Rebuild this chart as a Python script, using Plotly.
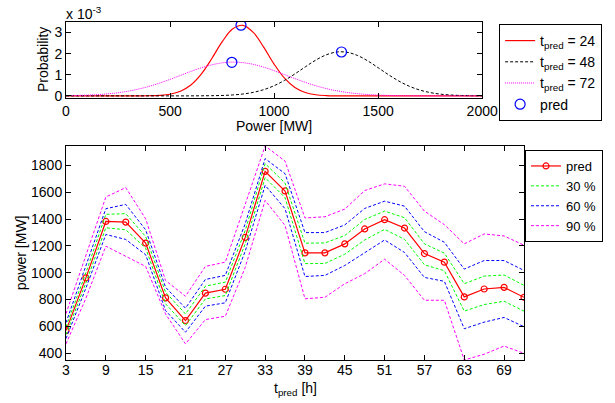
import plotly.graph_objects as go

# ---------------- data: top panel (probability, units of 1e-3) ----------------
power_grid = [0, 50, 100, 150, 200, 250, 300, 350, 400, 450, 500, 550, 600, 650, 700,
              750, 800, 850, 900, 950, 1000, 1050, 1100, 1150, 1200, 1250, 1300, 1350,
              1400, 1450, 1500, 1550, 1600, 1650, 1700, 1750, 1800, 1850, 1900, 1950, 2000]
prob_t24 = [0, 0, 0, 0, 0, 0, 0, 0.001, 0.006, 0.025, 0.079, 0.219, 0.514, 1.030, 1.758,
            2.555, 3.166, 3.343, 3.008, 2.307, 1.507, 0.839, 0.398, 0.161, 0.055, 0.016,
            0.004, 0.001, 0, 0, 0, 0, 0, 0, 0, 0, 0, 0, 0, 0, 0]
prob_t48 = [0, 0, 0, 0, 0, 0, 0, 0, 0, 0, 0, 0, 0.001, 0.004, 0.009, 0.020, 0.044, 0.089,
            0.168, 0.295, 0.482, 0.734, 1.041, 1.375, 1.693, 1.942, 2.076, 2.067, 1.918,
            1.658, 1.335, 1.002, 0.700, 0.456, 0.277, 0.157, 0.082, 0.041, 0.019, 0.008, 0.003]
prob_t72 = [0.011, 0.020, 0.035, 0.059, 0.096, 0.150, 0.225, 0.326, 0.453, 0.607, 0.783,
            0.970, 1.158, 1.330, 1.470, 1.563, 1.600, 1.575, 1.493, 1.361, 1.194, 1.008,
            0.820, 0.641, 0.482, 0.349, 0.243, 0.163, 0.105, 0.065, 0.039, 0.022, 0.012,
            0.007, 0.003, 0.002, 0.001, 0, 0, 0, 0]
pred_power = [841, 1324, 797]
pred_prob = [3.35, 2.08, 1.59]
top_labels = ["t<sub>pred</sub> = 24", "t<sub>pred</sub> = 48", "t<sub>pred</sub> = 72", "pred"]

# ---------------- data: bottom panel (power forecast with bands) ----------------
t_pred = [3, 6, 9, 12, 15, 18, 21, 24, 27, 30, 33, 36, 39, 42, 45, 48, 51, 54, 57, 60,
          63, 66, 69, 72]
pred = [569, 962, 1382, 1377, 1221, 813, 644, 848, 877, 1263, 1755, 1609, 1148, 1148,
        1215, 1326, 1395, 1333, 1143, 1079, 820, 879, 891, 817]
q30_hi = [598, 1000, 1435, 1440, 1270, 855, 693, 900, 930, 1315, 1813, 1668, 1220, 1222,
          1277, 1397, 1459, 1410, 1215, 1146, 918, 975, 983, 906]
q30_lo = [540, 925, 1335, 1320, 1183, 768, 606, 805, 830, 1216, 1708, 1559, 1068, 1069,
          1138, 1244, 1323, 1249, 1059, 1015, 714, 763, 788, 714]
q60_hi = [628, 1045, 1477, 1509, 1320, 892, 736, 950, 980, 1365, 1850, 1738, 1299, 1299,
          1356, 1479, 1533, 1496, 1306, 1227, 1027, 1091, 1091, 1017]
q60_lo = [510, 885, 1285, 1248, 1134, 718, 557, 751, 776, 1160, 1651, 1477, 972, 980,
          1054, 1151, 1244, 1151, 965, 936, 583, 632, 667, 598]
q90_hi = [695, 1130, 1564, 1634, 1402, 942, 825, 1047, 1079, 1510, 1944, 1832, 1408, 1417,
          1474, 1612, 1662, 1644, 1459, 1358, 1215, 1289, 1274, 1205]
q90_lo = [470, 810, 1198, 1124, 1047, 693, 470, 651, 676, 1040, 1539, 1352, 806, 817,
          918, 993, 1101, 980, 795, 795, 350, 393, 454, 400]
bottom_labels = ["pred", "30 %", "60 %", "90 %"]
x_ticks_bottom = [3, 9, 15, 21, 27, 33, 39, 45, 51, 57, 63, 69]
y_ticks_bottom = [400, 600, 800, 1000, 1200, 1400, 1600, 1800]
x_ticks_top = [0, 500, 1000, 1500, 2000]
y_ticks_top = [0, 1, 2, 3]

FONT = "Liberation Sans, Arial, sans-serif"
DASH = "3px,2px"

fig = go.Figure()

# top panel
fig.add_trace(go.Scatter(x=power_grid, y=prob_t24, mode="lines", name=top_labels[0],
                         line=dict(color="#ff0000", width=1.2, shape="spline"),
                         xaxis="x", yaxis="y", legend="legend"))
fig.add_trace(go.Scatter(x=power_grid, y=prob_t48, mode="lines", name=top_labels[1],
                         line=dict(color="#000000", width=1, dash=DASH, shape="spline"),
                         xaxis="x", yaxis="y", legend="legend"))
fig.add_trace(go.Scatter(x=power_grid, y=prob_t72, mode="lines", name=top_labels[2],
                         line=dict(color="#ff00ff", width=1, dash="1px,1px", shape="spline"),
                         xaxis="x", yaxis="y", legend="legend"))
fig.add_trace(go.Scatter(x=pred_power, y=pred_prob, mode="markers", name=top_labels[3],
                         marker=dict(symbol="circle-open", size=10, color="#0000ff",
                                     line=dict(width=1.2, color="#0000ff")),
                         xaxis="x", yaxis="y", legend="legend"))

# bottom panel
band_specs = [(q30_hi, q30_lo, "#00ff00", bottom_labels[1]),
              (q60_hi, q60_lo, "#0000ff", bottom_labels[2]),
              (q90_hi, q90_lo, "#ff00ff", bottom_labels[3])]
fig.add_trace(go.Scatter(x=t_pred, y=pred, mode="lines+markers", name=bottom_labels[0],
                         line=dict(color="#ff0000", width=1.2),
                         marker=dict(symbol="circle-open", size=6, color="#ff0000",
                                     line=dict(width=1.2, color="#ff0000")),
                         xaxis="x2", yaxis="y2", legend="legend2"))
for hi, lo, col, lab in band_specs:
    fig.add_trace(go.Scatter(x=t_pred, y=hi, mode="lines", name=lab,
                             line=dict(color=col, width=1, dash=DASH),
                             xaxis="x2", yaxis="y2", legend="legend2", legendgroup=lab))
    fig.add_trace(go.Scatter(x=t_pred, y=lo, mode="lines", name=lab, showlegend=False,
                             line=dict(color=col, width=1, dash=DASH),
                             xaxis="x2", yaxis="y2", legend="legend2", legendgroup=lab))

axis_common = dict(showline=True, linecolor="black", linewidth=1, mirror="ticks",
                   ticks="inside", ticklen=5, tickcolor="black", showgrid=False,
                   zeroline=False, tickfont=dict(family=FONT, size=14, color="black"))

# plot area in window pixels: left 66, right 526, top 22, bottom 360
L, R, T, B = 66, 526, 22, 360
W, H = R - L, B - T

fig.update_layout(
    width=615, height=403,
    margin=dict(l=L, r=615 - R, t=T, b=403 - B, pad=0),
    paper_bgcolor="white", plot_bgcolor="white",
    font=dict(family=FONT, size=14, color="black"),
    xaxis=dict(domain=[0, (484 - L) / W], range=[0, 2000], tickvals=x_ticks_top,
               anchor="y", **axis_common),
    yaxis=dict(domain=[(B - 98) / H, 1], range=[-0.1, 3.5], tickvals=y_ticks_top,
               anchor="x", **axis_common),
    xaxis2=dict(domain=[0, 1], range=[3, 72], tickvals=x_ticks_bottom,
                anchor="y2", ticklabelstandoff=-3, **axis_common),
    yaxis2=dict(domain=[0, (B - 146) / H], range=[350, 1944], tickvals=y_ticks_bottom,
                anchor="x2", **axis_common),
    legend=dict(x=(501 - L) / W, y=(B - 24) / H, xanchor="left", yanchor="top",
                bordercolor="black", borderwidth=1, bgcolor="white",
                font=dict(family=FONT, size=14, color="black"),
                itemwidth=30, tracegroupgap=0),
    legend2=dict(x=(527 - L) / W, y=(B - 150) / H, xanchor="left", yanchor="top",
                 bordercolor="black", borderwidth=1, bgcolor="white",
                 font=dict(family=FONT, size=13, color="black"),
                 itemwidth=30, tracegroupgap=0),
    showlegend=True,
)

def px_x(px):
    return (px - L) / W

def px_y(py):
    return (B - py) / H

annotations = [
    dict(text="x 10<sup>-3</sup>", x=px_x(64), y=px_y(13), xanchor="left", yanchor="middle",
         showarrow=False, font=dict(family=FONT, size=14)),
    dict(text="Probability", x=px_x(43), y=px_y(60), textangle=-90, xanchor="center",
         yanchor="middle", showarrow=False, font=dict(family=FONT, size=14)),
    dict(text="Power [MW]", x=px_x(275), y=px_y(126), xanchor="center", yanchor="middle",
         showarrow=False, font=dict(family=FONT, size=14)),
    dict(text="power [MW]", x=px_x(21), y=px_y(253), textangle=-90, xanchor="center",
         yanchor="middle", showarrow=False, font=dict(family=FONT, size=14)),
    dict(text="t<sub>pred</sub> [h]", x=px_x(296), y=px_y(389), xanchor="center",
         yanchor="middle", showarrow=False, font=dict(family=FONT, size=14)),
]
for a in annotations:
    a["xref"] = "paper"
    a["yref"] = "paper"
fig.update_layout(annotations=annotations)

# remove the browser's default 8px body margin so the figure fills the window
fig.write_html("out.html", config={"displayModeBar": False},
               post_script="document.body.style.margin='0px';")
